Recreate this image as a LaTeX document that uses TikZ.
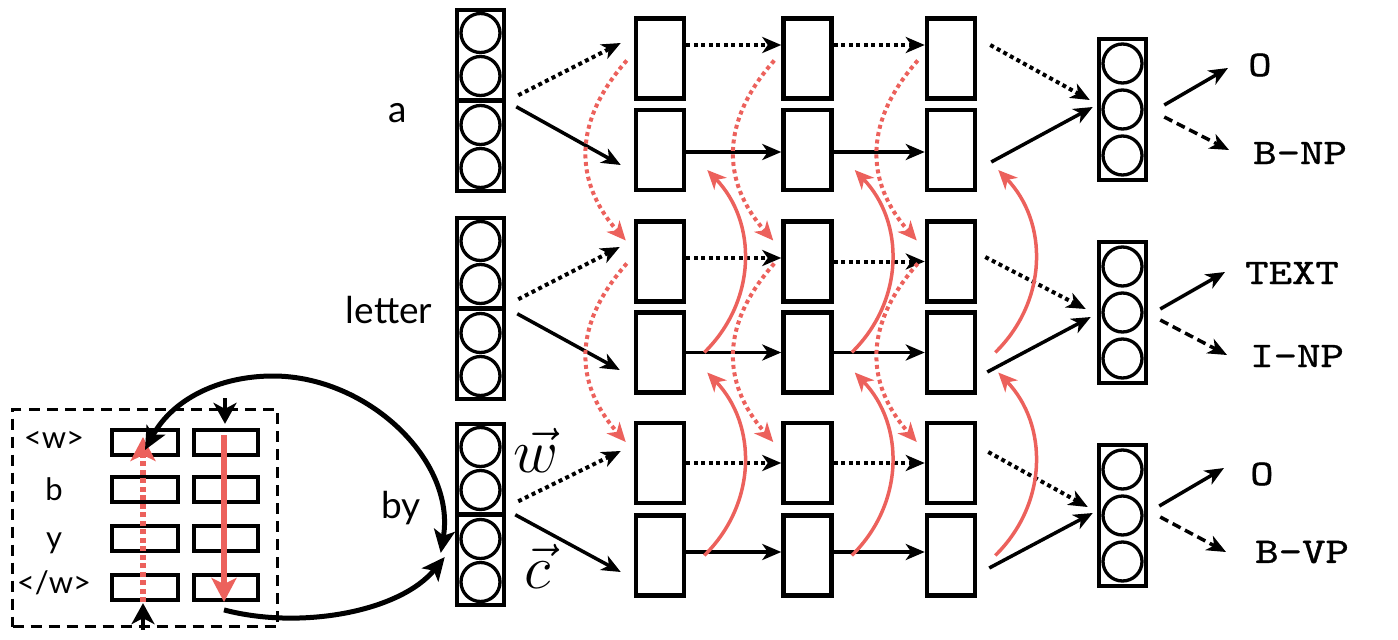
\documentclass[tikz,border=0pt]{standalone}
\usepackage{fix-cm}
\usepackage{fontspec}
\setmainfont{Lato}
\newfontfamily\tagfont[FakeStretch=1.24,FakeBold=1]{lmmono10-regular.otf}
\usetikzlibrary{arrows.meta}
\definecolor{lred}{HTML}{EC615C}
\begin{document}
\begin{tikzpicture}[x=1pt,y=-1pt,
  inhalf/.style={draw, line width=4.5pt, minimum width=47pt, minimum height=90.5pt, inner sep=0pt},
  circ/.style={draw, circle, line width=3.3pt, minimum size=39pt, inner sep=0pt},
  hbox/.style={draw, line width=4.5pt, minimum width=48pt, minimum height=80pt, inner sep=0pt},
  obox/.style={draw, line width=4.5pt, minimum width=47pt, minimum height=141pt, inner sep=0pt},
  cbox/.style={draw, line width=3.8pt, minimum height=25.5pt, inner sep=0pt},
  word/.style={font=\fontsize{37}{40}\selectfont, inner sep=0pt, anchor=base},
  cword/.style={font=\fontsize{31}{34}\selectfont, inner sep=0pt, anchor=base},
  tag/.style={font=\tagfont\fontsize{36}{40}\selectfont, inner sep=0pt, anchor=west},
  arr/.style={-{Stealth[length=19pt,width=16pt,inset=5.5pt]}, line width=3.5pt},
  dotarr/.style={arr, line width=4pt, dash pattern=on 4pt off 3.5pt},
  dasharr/.style={arr, dash pattern=on 9pt off 5pt},
  reddot/.style={draw=lred, line width=4pt, dash pattern=on 4pt off 3.5pt, -{Stealth[length=19pt,width=17pt,inset=5.5pt,fill=lred]}},
  redsol/.style={draw=lred, line width=3.5pt, -{Stealth[length=19pt,width=17pt,inset=5.5pt,fill=lred]}},
  redbig/.style={draw=lred, line width=5.5pt, -{Stealth[length=24pt,width=25pt,inset=6pt,fill=lred]}},
  smallarr/.style={line width=4.5pt, -{Stealth[length=21pt,width=23pt,inset=6pt]}},
  bigarr/.style={line width=5pt, -{Stealth[length=23pt,width=21pt,inset=5.5pt]}},
  bigarrs/.style={line width=5pt, {Stealth[length=23pt,width=21pt,inset=5.5pt]}-{Stealth[length=23pt,width=21pt,inset=5.5pt]}}
]
\useasboundingbox (0,0) rectangle (1398,640);

% ---------- input word vectors ----------
\foreach \row/\Yi in {1/100.5, 2/308.5, 3/514.5} {
  \node[inhalf] (in\row t) at (480.5, \Yi-45.25) {};
  \node[inhalf] (in\row b) at (480.5, \Yi+45.25) {};
  \node[circ] (ic\row a) at (480.5, \Yi-67.5) {};
  \node[circ] (ic\row b) at (480.5, \Yi-24.5) {};
  \node[circ] (ic\row c) at (480.5, \Yi+24.5) {};
  \node[circ] (ic\row d) at (480.5, \Yi+67.5) {};
}
% ---------- hidden boxes ----------
\foreach \row/\Yt/\Yb in {1/58.5/150, 2/261.5/352.5, 3/463/555.5} {
  \foreach \c/\X in {1/660, 2/807.5, 3/951} {
    \node[hbox] (h\row\c t) at (\X, \Yt) {};
    \node[hbox] (h\row\c b) at (\X, \Yb) {};
  }
}
% ---------- output vectors ----------
\foreach \row/\Yo in {1/109.5, 2/312.5, 3/515.5} {
  \node[obox] (out\row) at (1122.5, \Yo) {};
  \node[circ] (oc\row a) at (1122.5, \Yo-46) {};
  \node[circ] (oc\row b) at (1122.5, \Yo) {};
  \node[circ] (oc\row c) at (1122.5, \Yo+46) {};
}

% ---------- words ----------
\node[word] (wa) at (398,122) {a};
\node[word] (wl) at (389,323) {letter};
\node[word] (wb) at (401,518) {by};
\node[inner sep=0pt] (vw) at (536,450) {\fontsize{62}{64}\selectfont $\vec{w}$};
\node[inner sep=0pt] (vc) at (538,566) {\fontsize{62}{64}\selectfont $\vec{c}$};

% ---------- tags ----------
\node[tag] (t1a) at (1248,65) {O};
\node[tag] (t1b) at (1253,153) {B-NP};
\node[tag] (t2a) at (1245,273) {TEXT};
\node[tag] (t2b) at (1250,356) {I-NP};
\node[tag] (t3a) at (1250,474) {O};
\node[tag] (t3b) at (1255,552) {B-VP};

% ---------- row 1 connectors ----------
\draw[dotarr] ([shift={(12,-7.5)}]in1t.south east) -- ([shift={(-13,-15.5)}]h11t.west);
\draw[arr] ([shift={(10,8.5)}]in1b.north east) -- ([shift={(-13,15)}]h11b.west);
\draw[dotarr] ([shift={(0,-13.5)}]h11t.east) -- ([shift={(0,-13.5)}]h12t.west);
\draw[dotarr] ([shift={(0,-13.5)}]h12t.east) -- ([shift={(0,-13.5)}]h13t.west);
\draw[arr] ([shift={(0,2)}]h11b.east) -- ([shift={(0,2)}]h12b.west);
\draw[arr] ([shift={(0,2)}]h12b.east) -- ([shift={(0,2)}]h13b.west);
\draw[dotarr] ([shift={(13,-13.5)}]h13t.east) -- ([shift={(-7,-9.5)}]out1.west);
\draw[arr] ([shift={(14,12)}]h13b.east) -- ([shift={(-4,-2.5)}]out1.west);
\draw[arr] ([shift={(16,-4.5)}]out1.east) -- ([shift={(-20,3)}]t1a.west);
\draw[dasharr] ([shift={(16,7.5)}]out1.east) -- ([shift={(-24,-3)}]t1b.west);

% ---------- row 2 connectors ----------
\draw[dotarr] ([shift={(12,-11.5)}]in2t.south east) -- ([shift={(-14,-14.5)}]h21t.west);
\draw[arr] ([shift={(11,7.5)}]in2b.north east) -- ([shift={(-14,17.5)}]h21b.west);
\draw[dotarr] ([shift={(0,-3.5)}]h21t.east) -- ([shift={(0,-3.5)}]h22t.west);
\draw[dotarr] (h22t.east) -- (h23t.west);
\draw[arr] (h21b.east) -- (h22b.west);
\draw[arr] (h22b.east) -- (h23b.west);
\draw[dotarr] ([shift={(8,-4.5)}]h23t.east) -- ([shift={(-11,-3.5)}]out2.west);
\draw[arr] ([shift={(10,19.5)}]h23b.east) -- ([shift={(-6,4.5)}]out2.west);
\draw[arr] ([shift={(12,-3.5)}]out2.east) -- ([shift={(-20,-1)}]t2a.west);
\draw[dasharr] ([shift={(12,7.5)}]out2.east) -- ([shift={(-23,-1)}]t2b.west);

% ---------- row 3 connectors ----------
\draw[dotarr] ([shift={(12,-15.5)}]in3t.south east) -- ([shift={(-13,-12)}]h31t.west);
\draw[arr] ([shift={(9,2.5)}]in3b.north east) -- ([shift={(-13,16.5)}]h31b.west);
\draw[dotarr] (h31t.east) -- (h32t.west);
\draw[dotarr] (h32t.east) -- (h33t.west);
\draw[arr] ([shift={(0,-3.5)}]h31b.east) -- ([shift={(0,-3.5)}]h32b.west);
\draw[arr] ([shift={(0,-3.5)}]h32b.east) -- ([shift={(0,-3.5)}]h33b.west);
\draw[dotarr] ([shift={(11,-11)}]h33t.east) -- ([shift={(-9,-8.5)}]out3.west);
\draw[arr] ([shift={(12,12.5)}]h33b.east) -- ([shift={(-4,-2.5)}]out3.west);
\draw[arr] ([shift={(11,-9.5)}]out3.east) -- ([shift={(-26,-6)}]t3a.west);
\draw[dasharr] ([shift={(12,1.5)}]out3.east) -- ([shift={(-29,0)}]t3b.west);

% ---------- red recurrent curves ----------
\foreach \c in {1,2,3} {
  \foreach \row/\nxt in {1/2, 2/3} {
    \draw[reddot] ([shift={(-7,2)}]h\row\c t.west) .. controls +(-53,60) and +(-53,-60) .. ([shift={(-8,-21)}]h\nxt\c t.west);
    \draw[redsol] ([shift={(18,0)}]h\nxt\c b.east) .. controls +(53,-52) and +(50,52) .. ([shift={(21,20)}]h\row\c b.east);
  }
}

% ---------- character panel ----------
\node[draw, line width=3.8pt, dash pattern=on 11pt off 7pt, minimum width=265pt, minimum height=217pt, inner sep=0pt] (charbox) at (145,518) {};
\foreach \k/\Y in {1/442.5, 2/489.5, 3/538.5, 4/587.5} {
  \node[cbox, minimum width=66.5pt] (la\k) at (145,\Y) {};
  \node[cbox, minimum width=64.5pt] (lb\k) at (226,\Y) {};
}
\node[cword] (ch1) at (54,448) {<w>};
\node[cword] (ch2) at (54,500) {b};
\node[cword] (ch3) at (54,548) {y};
\node[cword] (ch4) at (54,593) {</w>};

\draw[redbig, dash pattern=on 5pt off 3.5pt] ([shift={(-2,14.5)}]la4.center) -- ([shift={(-2,-5.5)}]la1.center);
\draw[redbig] ([shift={(-2,-7.5)}]lb1.center) -- ([shift={(-2,14.5)}]lb4.center);
\draw[smallarr] ([shift={(-2,1.5)}]charbox.south) -- ([shift={(-2,1)}]la4.south);
\draw[smallarr] ([shift={(80,-9.5)}]charbox.north) -- ([shift={(-1,-4)}]lb1.north);

\coordinate (peak) at (273,376);
\draw[bigarrs] ([shift={(0,7.5)}]la1.center) .. controls (172,400) and (218,376) .. (peak) .. controls (367,376) and (456,460) .. ([shift={(-14,-6.75)}]in3b.west);
\draw[bigarr] ([shift={(-2,7.75)}]lb4.south) .. controls (300,630) and (400,612) .. ([shift={(-10,-2.75)}]in3b.west);
\end{tikzpicture}
\end{document}
